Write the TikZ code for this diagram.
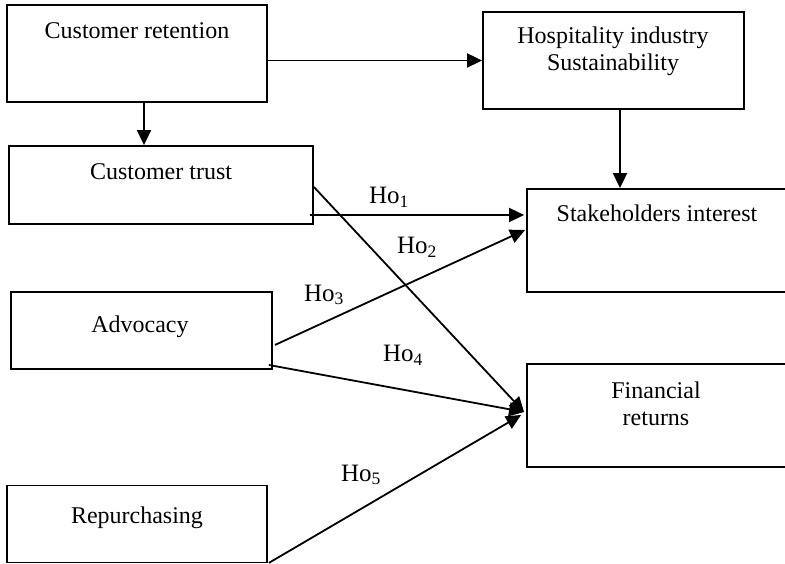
\documentclass[tikz,border=0pt]{standalone}
\usepackage{fontspec}
\setmainfont{Liberation Serif}
\usetikzlibrary{arrows.meta}
\begin{document}
\begin{tikzpicture}[x=1pt,y=1pt,
  box/.style={draw,line width=1.8pt,rectangle,inner sep=0pt},
  txt/.style={inner sep=0pt,align=center,font=\fontsize{24}{27}\selectfont},
  hlab/.style={inner sep=0pt,font=\fontsize{25}{28}\selectfont},
  conn/.style={line width=1.8pt,-{Triangle[length=15pt,width=14pt]}}]
\useasboundingbox (0,0) rectangle (785,564);
% boxes
\node[box,minimum width=260pt,minimum height=97pt] (ret) at (137,510.5) {};
\node[box,minimum width=261pt,minimum height=97pt] (hosp) at (613.5,503.5) {};
\node[box,minimum width=304pt,minimum height=78pt] (trust) at (161,379) {};
\node[box,minimum width=263pt,minimum height=103pt] (stake) at (658.5,323.5) {};
\node[box,minimum width=261pt,minimum height=77pt] (adv) at (141.5,233.5) {};
\node[box,minimum width=263pt,minimum height=103pt] (fin) at (658.5,148.5) {};
\node[box,minimum width=260pt,minimum height=77pt] (rep) at (137,40) {};
% texts
\node[txt] (retT) at (137,533) {Customer retention};
\node[txt] (hospT) at (613,512.5) {Hospitality industry\\Sustainability};
\node[txt] (trustT) at (161,392) {Customer trust};
\node[txt] (stakeT) at (657,351) {Stakeholders interest};
\node[txt] (advT) at (140,237) {Advocacy};
\node[txt] (finT) at (656,160.5) {Financial\\returns};
\node[txt] (repT) at (137,46) {Repurchasing};
% connectors
\draw[conn] (hosp.west -| ret.east) -- (hosp.west);
\draw[conn] ([xshift=7pt]ret.south) -- ([xshift=7pt]ret.south |- trust.north);
\draw[conn] ([xshift=6.5pt]hosp.south) -- ([xshift=6.5pt]hosp.south |- stake.north);
\draw[conn] ([xshift=-4pt,yshift=-30pt]trust.east) -- ([xshift=-2pt,yshift=-30pt]trust.east -| stake.west);
\draw[conn] ([yshift=-2pt]trust.east) -- ([xshift=-2pt,yshift=3.5pt]fin.west);
\draw[conn] ([xshift=2pt,yshift=-14.5pt]adv.east) -- ([xshift=-1pt,yshift=10.5pt]stake.west);
\draw[conn] ([xshift=-4pt,yshift=-34.5pt]adv.east) -- ([xshift=-2pt,yshift=3.5pt]fin.west);
\draw[conn] ([xshift=1pt,yshift=0.5pt]rep.south east) -- ([xshift=-5pt,yshift=0.5pt]fin.west);
% labels
\node[hlab] (l1) at (389,367) {Ho\textsubscript{1}};
\node[hlab] (l2) at (417,317) {Ho\textsubscript{2}};
\node[hlab] (l3) at (324,269) {Ho\textsubscript{3}};
\node[hlab] (l4) at (403,209) {Ho\textsubscript{4}};
\node[hlab] (l5) at (361,89) {Ho\textsubscript{5}};
\end{tikzpicture}
\end{document}
